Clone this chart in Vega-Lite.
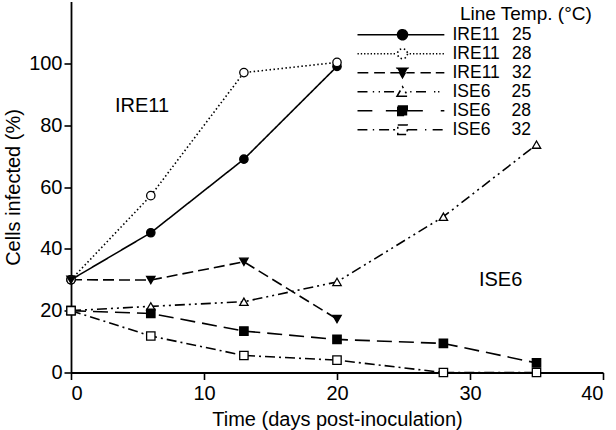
{
  "$schema": "https://vega.github.io/schema/vega-lite/v6.json",
  "autosize": {"type": "none"},
  "padding": {"left": 71, "top": 1.5, "right": 13, "bottom": 57},
  "width": 532,
  "height": 371,
  "background": "white",
  "config": {
    "view": {"stroke": null},
    "axis": {
      "grid": false,
      "domainColor": "black",
      "domainWidth": 1.8,
      "tickColor": "black",
      "tickWidth": 1.6,
      "tickSize": 7,
      "labelFont": "Liberation Sans",
      "labelFontSize": 20,
      "labelColor": "black",
      "titleFont": "Liberation Sans",
      "titleFontSize": 20,
      "titleFontWeight": "normal",
      "titleColor": "black"
    },
    "legend": {
      "orient": "none",
      "legendX": 280,
      "legendY": 24,
      "symbolSize": 81,
      "symbolStrokeWidth": 1.6,
      "symbolStrokeColor": "black",
      "labelFont": "Liberation Sans",
      "labelFontSize": 17.5,
      "labelColor": "black",
      "labelOffset": 84,
      "rowPadding": 0,
      "clipHeight": 18.4
    }
  },
  "datasets": {
    "curves": [
      {"series": "IRE11 25", "day": 0, "pct": 30},
      {"series": "IRE11 25", "day": 6, "pct": 45.2},
      {"series": "IRE11 25", "day": 13, "pct": 69},
      {"series": "IRE11 25", "day": 20, "pct": 99},
      {"series": "IRE11 28", "day": 0, "pct": 30},
      {"series": "IRE11 28", "day": 6, "pct": 57.2},
      {"series": "IRE11 28", "day": 13, "pct": 97},
      {"series": "IRE11 28", "day": 20, "pct": 100.3},
      {"series": "IRE11 32", "day": 0, "pct": 30},
      {"series": "IRE11 32", "day": 6, "pct": 29.9},
      {"series": "IRE11 32", "day": 13, "pct": 35.8},
      {"series": "IRE11 32", "day": 20, "pct": 17.3},
      {"series": "ISE6 25", "day": 0, "pct": 20},
      {"series": "ISE6 25", "day": 6, "pct": 21.4},
      {"series": "ISE6 25", "day": 13, "pct": 22.9},
      {"series": "ISE6 25", "day": 20, "pct": 29.3},
      {"series": "ISE6 25", "day": 28, "pct": 50.4},
      {"series": "ISE6 25", "day": 35, "pct": 73.7},
      {"series": "ISE6 28", "day": 0, "pct": 20},
      {"series": "ISE6 28", "day": 6, "pct": 19.1},
      {"series": "ISE6 28", "day": 13, "pct": 13.4},
      {"series": "ISE6 28", "day": 20, "pct": 10.7},
      {"series": "ISE6 28", "day": 28, "pct": 9.4},
      {"series": "ISE6 28", "day": 35, "pct": 3.1},
      {"series": "ISE6 32", "day": 0, "pct": 20},
      {"series": "ISE6 32", "day": 6, "pct": 11.8},
      {"series": "ISE6 32", "day": 13, "pct": 5.5},
      {"series": "ISE6 32", "day": 20, "pct": 4},
      {"series": "ISE6 32", "day": 28, "pct": 0},
      {"series": "ISE6 32", "day": 35, "pct": 0}
    ],
    "notes": [
      {"label": "IRE11", "day": 5.34, "pct": 86.2, "size": 20},
      {"label": "ISE6", "day": 32.3, "pct": 29.9, "size": 20},
      {"label": "Line Temp. (°C)", "day": 34.2, "pct": 116, "size": 19}
    ]
  },
  "layer": [
    {
      "data": {"name": "curves"},
      "mark": {"type": "point", "filled": true, "stroke": "black", "strokeWidth": 1.6, "size": 0, "opacity": 0},
      "encoding": {
        "x": {
          "field": "day", "type": "quantitative",
          "scale": {"domain": [0, 40], "nice": false},
          "axis": {"values": [0, 10, 20, 30, 40], "title": "Time (days post-inoculation)", "labelPadding": 4, "titlePadding": 6}
        },
        "y": {
          "field": "pct", "type": "quantitative",
          "scale": {"domain": [0, 120], "nice": false},
          "axis": {"values": [0, 20, 40, 60, 80, 100], "title": "Cells infected (%)", "labelPadding": 2, "titlePadding": 5}
        },
        "shape": {
          "field": "series", "type": "nominal",
          "scale": {
            "domain": ["IRE11 25", "IRE11 28", "IRE11 32", "ISE6 25", "ISE6 28", "ISE6 32"],
            "range": [
              "M-0.5,0H18.8M10.6,0A1.1,1.1,0,1,1,8.4,0A1.1,1.1,0,1,1,10.6,0Z",
              "M-0.5,0h0.3M0.23,0h0.3M0.96,0h0.3M1.69,0h0.3M2.42,0h0.3M3.15,0h0.3M3.88,0h0.3M4.61,0h0.3M5.34,0h0.3M6.07,0h0.3M6.8,0h0.3M7.53,0h0.3M11.1,0h0.3M11.83,0h0.3M12.56,0h0.3M13.29,0h0.3M14.02,0h0.3M14.75,0h0.3M15.48,0h0.3M16.21,0h0.3M16.94,0h0.3M17.67,0h0.3M18.4,0h0.3M10.6,0A1.1,1.1,0,1,1,8.4,0A1.1,1.1,0,1,1,10.6,0Z",
              "M-0.5,0H1.9M3.2,0H5.6M6.8,0H12.2M13.5,0H15.8M16.9,0H18.8M8.3,-1L10.7,-1L9.5,1.1Z",
              "M-0.5,0H2.1M2.9,0H3.2M4.2,0H4.5M5.4,0H8.4M11.2,0H11.5M12.5,0H15.4M16.5,0H16.8M17.4,0H17.7M8.3,1L10.7,1L9.5,-1.1Z",
              "M-0.5,0H2.8M5.8,0H14.7M18,0H18.8M8.45,-1.05H10.55V1.05H8.45Z",
              "M-0.5,0H1.7M2.9,0H3.2M4.3,0H8.45M10.55,0H13.2M14.5,0H14.8M16.2,0H18.8M8.45,-1.05H10.55V1.05H8.45Z"
            ]
          },
          "legend": {
            "title": null,
            "labelExpr": "replace(datum.label, ' ', indexof(datum.label, 'IRE') == 0 ? '\u2002\u2009' : '\u2003\u2009')",
            "encode": {"symbols": {"update": {"stroke": {"value": "black"}, "strokeWidth": {"value": 1.6}, "opacity": {"value": 1}, "size": {"value": 81}}}}
          }
        },
        "fill": {
          "field": "series", "type": "nominal",
          "scale": {
            "domain": ["IRE11 25", "IRE11 28", "IRE11 32", "ISE6 25", "ISE6 28", "ISE6 32"],
            "range": ["black", "white", "black", "white", "black", "white"]
          },
          "legend": {
            "title": null,
            "labelExpr": "replace(datum.label, ' ', indexof(datum.label, 'IRE') == 0 ? '\u2002\u2009' : '\u2003\u2009')",
            "encode": {"symbols": {"update": {"stroke": {"value": "black"}, "strokeWidth": {"value": 1.6}, "opacity": {"value": 1}, "size": {"value": 81}}}}
          }
        }
      }
    },
    {
      "data": {"name": "curves"},
      "mark": {"type": "line", "color": "black", "strokeWidth": 1.6},
      "encoding": {
        "x": {"field": "day", "type": "quantitative"},
        "y": {"field": "pct", "type": "quantitative"},
        "strokeDash": {
          "field": "series", "type": "nominal",
          "scale": {
            "domain": ["IRE11 25", "IRE11 28", "IRE11 32", "ISE6 25", "ISE6 28", "ISE6 32"],
            "range": [[1, 0], [1.5, 2.5], [11, 5], [10, 4, 2, 4, 2, 4], [15, 7], [10, 4, 2, 4]]
          },
          "legend": null
        }
      }
    },
    {
      "data": {"name": "curves"},
      "transform": [{"filter": "datum.series == 'IRE11 25'"}],
      "mark": {"type": "point", "shape": "circle", "fill": "black", "fillOpacity": 1, "stroke": "black", "strokeWidth": 1.3, "size": 70, "opacity": 1},
      "encoding": {"x": {"field": "day", "type": "quantitative"}, "y": {"field": "pct", "type": "quantitative"}}
    },
    {
      "data": {"name": "curves"},
      "transform": [{"filter": "datum.series == 'IRE11 28'"}],
      "mark": {"type": "point", "shape": "circle", "fill": "white", "fillOpacity": 1, "stroke": "black", "strokeWidth": 1.3, "size": 70, "opacity": 1},
      "encoding": {"x": {"field": "day", "type": "quantitative"}, "y": {"field": "pct", "type": "quantitative"}}
    },
    {
      "data": {"name": "curves"},
      "transform": [{"filter": "datum.series == 'IRE11 32'"}],
      "mark": {"type": "point", "shape": "triangle-down", "fill": "black", "fillOpacity": 1, "stroke": "black", "strokeWidth": 1.3, "size": 70, "opacity": 1},
      "encoding": {"x": {"field": "day", "type": "quantitative"}, "y": {"field": "pct", "type": "quantitative"}}
    },
    {
      "data": {"name": "curves"},
      "transform": [{"filter": "datum.series == 'ISE6 25'"}],
      "mark": {"type": "point", "shape": "triangle-up", "fill": "white", "fillOpacity": 1, "stroke": "black", "strokeWidth": 1.3, "size": 70, "opacity": 1},
      "encoding": {"x": {"field": "day", "type": "quantitative"}, "y": {"field": "pct", "type": "quantitative"}}
    },
    {
      "data": {"name": "curves"},
      "transform": [{"filter": "datum.series == 'ISE6 28'"}],
      "mark": {"type": "point", "shape": "square", "fill": "black", "fillOpacity": 1, "stroke": "black", "strokeWidth": 1.3, "size": 70, "opacity": 1},
      "encoding": {"x": {"field": "day", "type": "quantitative"}, "y": {"field": "pct", "type": "quantitative"}}
    },
    {
      "data": {"name": "curves"},
      "transform": [{"filter": "datum.series == 'ISE6 32'"}],
      "mark": {"type": "point", "shape": "square", "fill": "white", "fillOpacity": 1, "stroke": "black", "strokeWidth": 1.3, "size": 70, "opacity": 1},
      "encoding": {"x": {"field": "day", "type": "quantitative"}, "y": {"field": "pct", "type": "quantitative"}}
    },
    {
      "data": {"name": "notes"},
      "mark": {"type": "text", "font": "Liberation Sans", "color": "black", "align": "center", "baseline": "middle"},
      "encoding": {
        "x": {"field": "day", "type": "quantitative"},
        "y": {"field": "pct", "type": "quantitative"},
        "text": {"field": "label"},
        "size": {"field": "size", "type": "quantitative", "scale": null}
      }
    }
  ]
}
